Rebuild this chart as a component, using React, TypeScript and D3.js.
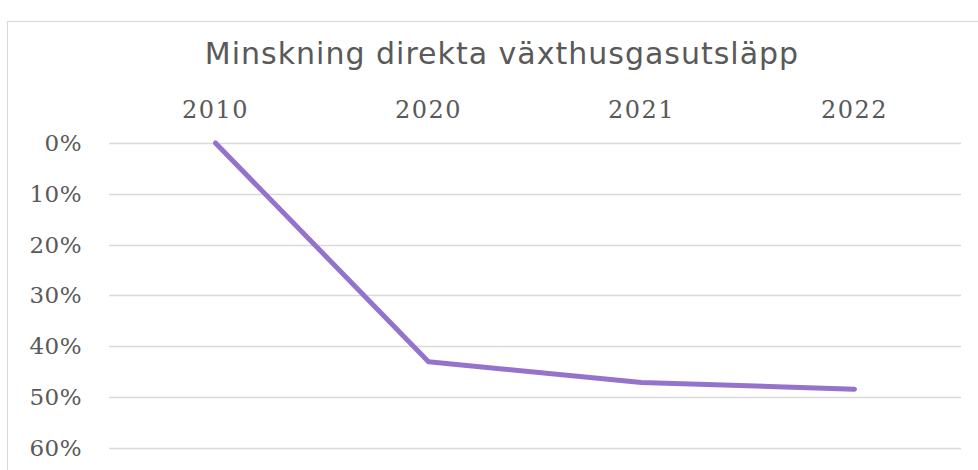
import { useEffect, useRef } from 'react'
import * as d3 from 'd3'

const title = 'Minskning direkta växthusgasutsläpp'
const years = ['2010', '2020', '2021', '2022']
const reduction = [0, 43.1, 47.2, 48.5]
const yTicks = [0, 10, 20, 30, 40, 50, 60]

const width = 978
const height = 470

const App = () => {
    const ref = useRef<SVGSVGElement>(null)

    useEffect(() => {
        const svg = d3.select(ref.current)
        svg.selectAll('*').remove()

        const x = d3.scaleBand<string>()
            .domain(years)
            .range([109, 961])

        // reversed axis: 0% at the top
        const y = d3.scaleLinear()
            .domain([0, 60])
            .range([143, 447.5])

        // chart frame, cut off by the picture on right and bottom
        svg.append('rect')
            .attr('x', 7.5)
            .attr('y', 21.5)
            .attr('width', 1000)
            .attr('height', 500)
            .attr('fill', '#fff')
            .attr('stroke', '#d9d9d9')

        svg.append('text')
            .attr('x', 502)
            .attr('y', 64)
            .attr('text-anchor', 'middle')
            .attr('font-family', '"DejaVu Sans", Verdana, sans-serif')
            .attr('font-size', 30)
            .attr('letter-spacing', 1)
            .attr('fill', '#595959')
            .text(title)

        svg.append('g')
            .selectAll('line')
            .data(yTicks)
            .join('line')
            .attr('x1', 109)
            .attr('x2', 961)
            .attr('y1', d => Math.round(y(d)) + 0.5)
            .attr('y2', d => Math.round(y(d)) + 0.5)
            .attr('stroke', '#d9d9d9')
            .attr('stroke-width', 1.5)

        svg.append('g')
            .selectAll('text')
            .data(yTicks)
            .join('text')
            .attr('x', 82)
            .attr('y', d => y(d) + 8)
            .attr('text-anchor', 'end')
            .attr('font-family', '"DejaVu Serif", Georgia, serif')
            .attr('font-size', 23)
            .attr('letter-spacing', 0.5)
            .attr('fill', '#595959')
            .text(d => d + '%')

        svg.append('g')
            .selectAll('text')
            .data(years)
            .join('text')
            .attr('x', d => (x(d) ?? 0) + x.bandwidth() / 2)
            .attr('y', 117.5)
            .attr('text-anchor', 'middle')
            .attr('font-family', '"DejaVu Serif", Georgia, serif')
            .attr('font-size', 24)
            .attr('letter-spacing', 1.5)
            .attr('fill', '#595959')
            .text(d => d)

        const line = d3.line<number>()
            .x((_, i) => (x(years[i]) ?? 0) + x.bandwidth() / 2)
            .y(d => y(d))

        svg.append('path')
            .datum(reduction)
            .attr('fill', 'none')
            .attr('stroke', '#9673cb')
            .attr('stroke-width', 5)
            .attr('stroke-linejoin', 'round')
            .attr('stroke-linecap', 'round')
            .attr('d', line)
    }, [])

    return (
        <svg
            ref={ref}
            width={width}
            height={height}
            style={{ position: 'absolute', left: 0, top: 0, display: 'block' }}
        />
    )
}

export default App
